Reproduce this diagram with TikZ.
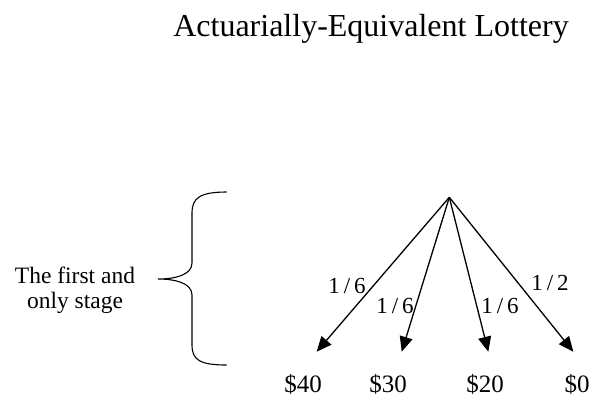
\documentclass[tikz,border=0pt]{standalone}
\usepackage{fontspec}
\setmainfont{Liberation Serif}
\usetikzlibrary{arrows.meta}

\begin{document}
\begin{tikzpicture}[x=1pt,y=-1pt]
\tikzset{
  branch/.style={-{Triangle[length=15pt,width=13pt]},line width=1.3pt},
  prob/.style={font=\fontsize{23}{26}\selectfont,inner sep=1pt},
  payoff/.style={font=\fontsize{25}{28}\selectfont,inner sep=1pt}
}
\useasboundingbox (0,0) rectangle (593,400);
\node[font=\fontsize{32}{36}\selectfont] (title) at (371,29) {Actuarially-Equivalent Lottery};
% the brace and its label
\draw[line width=1.1pt] (226.7,192) .. controls (200,192) and (192,198) .. (192,213)
  -- (192,263) .. controls (192,275) and (175,279) .. (158,279)
  .. controls (175,279) and (192,283) .. (192,295)
  -- (192,345) .. controls (192,360) and (200,365) .. (226.7,365);
\node[font=\fontsize{23.5}{25}\selectfont,align=center] (stage) at (75,290) {The first and\\only stage};
% the lottery
\coordinate (root) at (449.3,197.3);
\coordinate (t1) at (316.7,351.7);
\coordinate (t2) at (401.7,351.7);
\coordinate (t3) at (488.3,351.7);
\coordinate (t4) at (573.3,351.7);
\node[payoff] (p1) at (303,384) {\$40};
\node[payoff] (p2) at (388,384) {\$30};
\node[payoff] (p3) at (485,384) {\$20};
\node[payoff] (p4) at (577,384) {\$0};
\draw[branch] (root) -- (t1);
\draw[branch] (root) -- (t2);
\draw[branch] (root) -- (t3);
\draw[branch] (root) -- (t4);
\node[prob] (q1) at (347,286) {1\,/\,6};
\node[prob] (q2) at (395,306) {1\,/\,6};
\node[prob] (q3) at (500,306) {1\,/\,6};
\node[prob] (q4) at (550,283) {1\,/\,2};
\end{tikzpicture}
\end{document}
